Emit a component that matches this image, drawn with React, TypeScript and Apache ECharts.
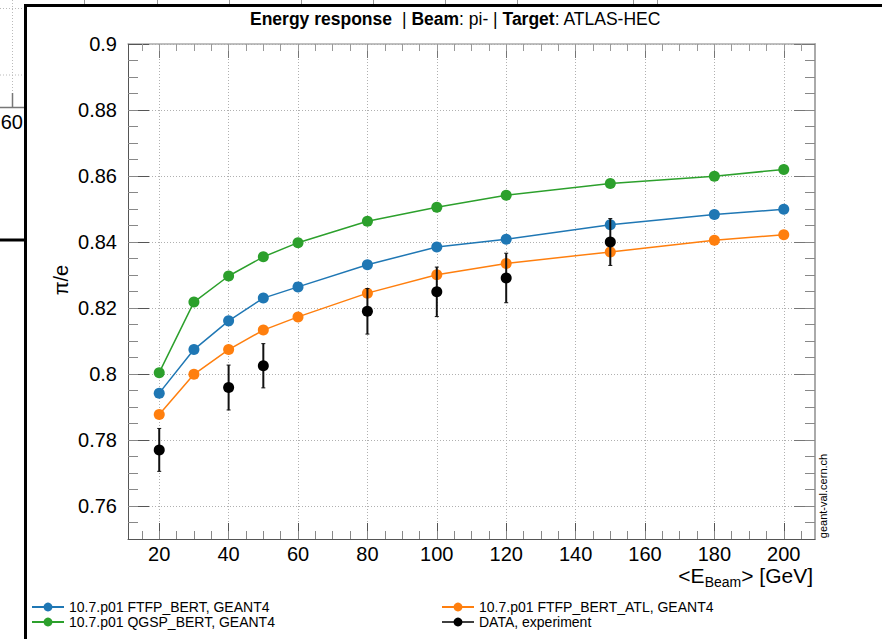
import React, { useEffect, useRef } from "react";
import * as echarts from "echarts";

const energies = [20, 30, 40, 50, 60, 80, 100, 120, 150, 180, 200];
const ftfpBert = [0.7942, 0.8074, 0.8161, 0.823, 0.8264, 0.8331, 0.8385, 0.8408, 0.8452, 0.8483, 0.8499];
const ftfpBertAtl = [0.7877, 0.7999, 0.8074, 0.8133, 0.8173, 0.8245, 0.8301, 0.8335, 0.837, 0.8405, 0.8422];
const qgspBert = [0.8004, 0.8218, 0.8297, 0.8355, 0.8398, 0.8463, 0.8505, 0.8542, 0.8577, 0.8599, 0.862];
const dataEnergies = [20, 40, 50, 80, 100, 120, 150];
const dataValues = [0.777, 0.7959, 0.8025, 0.819, 0.8249, 0.8291, 0.84];
const dataErrors = [0.0065, 0.0068, 0.0067, 0.0069, 0.0075, 0.0075, 0.0071];

const xMajorTicks = [20, 40, 60, 80, 100, 120, 140, 160, 180, 200];
const xMinorTicks = [15, 20, 25, 30, 35, 40, 45, 50, 55, 60, 65, 70, 75, 80, 85, 90, 95, 100, 105, 110, 115, 120, 125, 130, 135, 140, 145, 150, 155, 160, 165, 170, 175, 180, 185, 190, 195, 200, 205];
const yMajorTicks = [0.76, 0.78, 0.8, 0.82, 0.84, 0.86, 0.88, 0.9];
const yMinorTicks = [0.755, 0.76, 0.765, 0.77, 0.775, 0.78, 0.785, 0.79, 0.795, 0.8, 0.805, 0.81, 0.815, 0.82, 0.825, 0.83, 0.835, 0.84, 0.845, 0.85, 0.855, 0.86, 0.865, 0.87, 0.875, 0.88, 0.885, 0.89, 0.895];

const seriesNames = [
  "10.7.p01 FTFP_BERT, GEANT4",
  "10.7.p01 QGSP_BERT, GEANT4",
  "10.7.p01 FTFP_BERT_ATL, GEANT4",
  "DATA, experiment",
];
const colors = ["#1f77b4", "#2ca02c", "#ff7f0e", "#000000"];

const FONT = "'Liberation Sans', Arial, Helvetica, sans-serif";

export default function App() {
  const ref = useRef<HTMLDivElement>(null);
  useEffect(() => {
    if (!ref.current) return;
    const chart = echarts.init(ref.current, null, { renderer: "svg" });
    const dotted = { type: [1, 2] as any, color: "#b0b0b0", width: 1 };
    const xBase = { type: "value", min: 11, max: 209, gridIndex: 0 };
    const yBase = { type: "value", min: 0.75, max: 0.9, gridIndex: 0 };
    const fmt = (v: number) => String(Number(v.toFixed(3)));
    const line = (name: string, vals: number[], color: string) => ({
      name,
      type: "line",
      data: energies.map((e, i) => [e, vals[i]]),
      symbol: "circle",
      symbolSize: 11,
      lineStyle: { width: 1.5, color },
      itemStyle: { color },
      z: 2,
    });
    const legendText = { fontSize: 14, color: "#000", fontFamily: FONT, lineHeight: 14 };
    const option: any = {
      animation: false,
      backgroundColor: "#ffffff",
      textStyle: { fontFamily: FONT },
      title: {
        left: 250,
        top: 10,
        padding: 0,
        text: "{b|Energy response}  {n|| }{b|Beam}{n|: pi- | }{b|Target}{n|: ATLAS-HEC}",
        textStyle: {
          fontWeight: "normal",
          rich: {
            b: { fontSize: 17.5, fontWeight: "bold", color: "#000", fontFamily: FONT },
            n: { fontSize: 17.5, fontWeight: "normal", color: "#000", fontFamily: FONT },
          },
        },
      },
      grid: { left: 128, top: 44, right: 67, bottom: 100, containLabel: false },
      xAxis: [
        {
          ...xBase,
          position: "bottom",
          axisLine: { show: true, onZero: false, lineStyle: { color: "#555", width: 1 } },
          axisTick: { show: true, inside: true, length: 16, customValues: xMajorTicks, lineStyle: { color: "#555" } },
          axisLabel: { customValues: xMajorTicks, fontSize: 20, color: "#000", margin: 5, fontFamily: FONT },
          splitLine: { show: true, lineStyle: dotted },
        },
        {
          ...xBase,
          position: "bottom",
          axisLine: { show: false },
          axisTick: { show: true, inside: true, length: 8, customValues: xMinorTicks, lineStyle: { color: "#888" } },
          axisLabel: { show: false },
          splitLine: { show: false },
        },
        {
          ...xBase,
          position: "top",
          axisLine: { show: true, onZero: false, lineStyle: { color: "#aaa", width: 1.5 } },
          axisTick: { show: true, inside: true, length: 14, customValues: xMajorTicks, lineStyle: { color: "#777" } },
          axisLabel: { show: false },
          splitLine: { show: false },
        },
        {
          ...xBase,
          position: "top",
          axisLine: { show: false },
          axisTick: { show: true, inside: true, length: 7, customValues: xMinorTicks, lineStyle: { color: "#999" } },
          axisLabel: { show: false },
          splitLine: { show: false },
        },
      ],
      yAxis: [
        {
          ...yBase,
          position: "left",
          axisLine: { show: true, onZero: false, lineStyle: { color: "#555", width: 1 } },
          axisTick: { show: true, inside: true, length: 21, customValues: yMajorTicks, lineStyle: { color: "#555" } },
          axisLabel: { customValues: yMajorTicks, fontSize: 20, color: "#000", margin: 11, fontFamily: FONT, formatter: fmt },
          splitLine: { show: true, lineStyle: dotted },
        },
        {
          ...yBase,
          position: "left",
          axisLine: { show: false },
          axisTick: { show: true, inside: true, length: 10, customValues: yMinorTicks, lineStyle: { color: "#888" } },
          axisLabel: { show: false },
          splitLine: { show: false },
        },
        {
          ...yBase,
          position: "right",
          axisLine: { show: true, onZero: false, lineStyle: { color: "#aaa", width: 2 } },
          axisTick: { show: true, inside: true, length: 21, customValues: yMajorTicks, lineStyle: { color: "#777" } },
          axisLabel: { show: false },
          splitLine: { show: false },
        },
        {
          ...yBase,
          position: "right",
          axisLine: { show: false },
          axisTick: { show: true, inside: true, length: 10, customValues: yMinorTicks, lineStyle: { color: "#888" } },
          axisLabel: { show: false },
          splitLine: { show: false },
        },
      ],
      legend: [
        {
          data: [seriesNames[0], seriesNames[1]],
          orient: "vertical",
          left: 31,
          top: 600,
          padding: 0,
          itemWidth: 32,
          itemHeight: 11,
          itemGap: 1,
          textStyle: legendText,
        },
        {
          data: [
            seriesNames[2],
            { name: seriesNames[3], lineStyle: { width: 1.5, color: "#000", opacity: 1 } },
          ],
          orient: "vertical",
          left: 441,
          top: 600,
          padding: 0,
          itemWidth: 32,
          itemHeight: 11,
          itemGap: 1,
          textStyle: legendText,
        },
      ],
      series: [
        line(seriesNames[0], ftfpBert, colors[0]),
        line(seriesNames[1], qgspBert, colors[1]),
        line(seriesNames[2], ftfpBertAtl, colors[2]),
        {
          name: "errors",
          type: "custom",
          silent: true,
          z: 3,
          data: dataEnergies.map((e, i) => [e, dataValues[i] - dataErrors[i], dataValues[i] + dataErrors[i]]),
          encode: { x: 0, y: [1, 2] },
          renderItem: (params: any, api: any) => {
            const x = api.value(0);
            const lo = api.coord([x, api.value(1)]);
            const hi = api.coord([x, api.value(2)]);
            const st = { stroke: "#111", lineWidth: 2 };
            return {
              type: "group",
              children: [
                { type: "line", shape: { x1: lo[0], y1: lo[1], x2: hi[0], y2: hi[1] }, style: st },
                { type: "line", shape: { x1: lo[0] - 2, y1: lo[1], x2: lo[0] + 2, y2: lo[1] }, style: { stroke: "#111", lineWidth: 1 } },
                { type: "line", shape: { x1: hi[0] - 2, y1: hi[1], x2: hi[0] + 2, y2: hi[1] }, style: { stroke: "#111", lineWidth: 1 } },
              ],
            };
          },
        },
        {
          name: seriesNames[3],
          type: "line",
          data: dataEnergies.map((e, i) => [e, dataValues[i]]),
          symbol: "circle",
          symbolSize: 11,
          lineStyle: { width: 0, opacity: 0, color: "#000" },
          itemStyle: { color: "#000" },
          z: 4,
        },
      ],
      graphic: [
        { type: "line", z: 100, shape: { x1: 25.5, y1: 4, x2: 25.5, y2: 639 }, style: { stroke: "#000", lineWidth: 3 } },
        { type: "line", z: 100, shape: { x1: 24, y1: 5.5, x2: 882, y2: 5.5 }, style: { stroke: "#000", lineWidth: 3 } },
        { type: "line", shape: { x1: 0, y1: 240, x2: 25, y2: 240 }, style: { stroke: "#000", lineWidth: 3 } },
        { type: "line", shape: { x1: 0, y1: 107.5, x2: 24, y2: 107.5 }, style: { stroke: "#777", lineWidth: 1.5 } },
        { type: "line", shape: { x1: 12.5, y1: 93, x2: 12.5, y2: 107 }, style: { stroke: "#777", lineWidth: 1.5 } },
        { type: "line", shape: { x1: 12.5, y1: 0, x2: 12.5, y2: 93 }, style: { stroke: "#bbb", lineWidth: 1, lineDash: [1, 2] } },
        { type: "line", shape: { x1: 0, y1: 8.5, x2: 24, y2: 8.5 }, style: { stroke: "#bbb", lineWidth: 1, lineDash: [1, 2] } },
        { type: "line", shape: { x1: 0, y1: 75, x2: 24, y2: 75 }, style: { stroke: "#bbb", lineWidth: 1, lineDash: [1, 2] } },
        { type: "text", x: 23, y: 122, style: { text: "60", align: "right", verticalAlign: "middle", fontSize: 20, fill: "#000", fontFamily: FONT } },
        ...[84, 157, 229, 301, 373, 445, 517, 633, 657].map((x) => ({
          type: "line",
          shape: { x1: x + 0.5, y1: 0, x2: x + 0.5, y2: 4 },
          style: { stroke: "#999", lineWidth: 1 },
        })),
        {
          type: "text",
          x: 813,
          y: 575,
          style: {
            text: "{m|<E}{s|Beam}{m|> [GeV]}",
            align: "right",
            verticalAlign: "middle",
            rich: {
              m: { fontSize: 21, lineHeight: 20, fill: "#000", fontFamily: FONT },
              s: { fontSize: 14, lineHeight: 14, padding: [14, 0, 0, 0], fill: "#000", fontFamily: FONT },
            },
          },
        },
        {
          type: "text",
          x: 61,
          y: 280,
          rotation: Math.PI / 2,
          style: { text: "π/e", align: "center", verticalAlign: "middle", fontSize: 20, fill: "#000", fontFamily: FONT },
        },
        {
          type: "text",
          x: 823,
          y: 496,
          rotation: Math.PI / 2,
          style: { text: "geant-val.cern.ch", align: "center", verticalAlign: "middle", fontSize: 11, fill: "#000", fontFamily: FONT },
        },
      ],
    };
    chart.setOption(option);
    return () => chart.dispose();
  }, []);
  return <div ref={ref} style={{ position: "fixed", left: 0, top: 0, width: 882, height: 639 }} />;
}
